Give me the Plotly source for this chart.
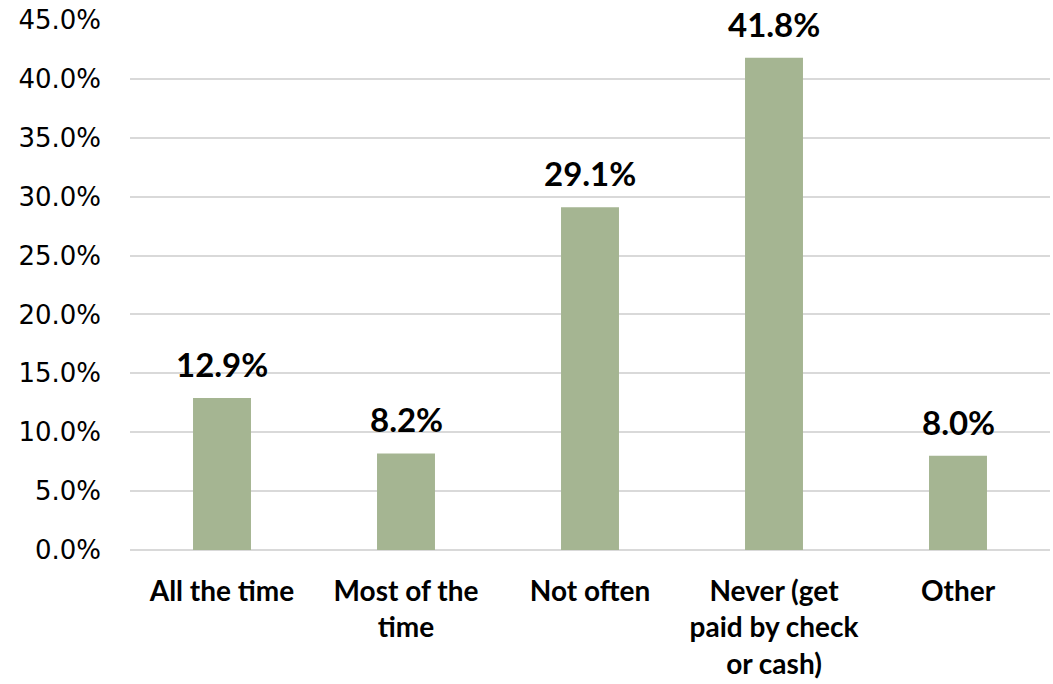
import plotly.graph_objects as go

categories = ["All the time", "Most of the<br>time", "Not often",
              "Never (get<br>paid by check<br>or cash)", "Other"]
values = [12.9, 8.2, 29.1, 41.8, 8.0]
tick_vals = [0, 5, 10, 15, 20, 25, 30, 35, 40, 45]
tick_text = [f"{v:.1f}%" for v in tick_vals]

bar_color = "#A5B592"
label_font = "Lato, 'Open Sans', sans-serif"

fig = go.Figure(
    go.Bar(
        x=categories,
        y=values,
        marker=dict(color=bar_color, line=dict(width=0)),
        hoverinfo="skip",
    )
)

# value labels above each bar
for cat, val in zip(categories, values):
    fig.add_annotation(
        x=cat, y=val, text=f"<b>{val:.1f}%</b>",
        showarrow=False, yanchor="bottom", yshift=12,
        font=dict(family=label_font, size=33, color="#000000"),
    )

fig.update_layout(
    width=1053, height=684,
    margin=dict(l=130, r=3, t=20, b=134),
    paper_bgcolor="white", plot_bgcolor="white",
    bargap=0.685,
    showlegend=False,
)

fig.update_xaxes(
    tickfont=dict(family=label_font, size=28, color="#000000"),
    tickprefix="<b>", ticksuffix="</b>",
    showline=False, showgrid=False,
    ticklabelstandoff=22,
)

fig.update_yaxes(
    range=[0, 45],
    tickvals=tick_vals, ticktext=tick_text,
    tickfont=dict(family="'DejaVu Sans', Verdana, sans-serif", size=26, color="#000000"),
    showgrid=True, gridcolor="#D9D9D9", gridwidth=2,
    zeroline=True, zerolinecolor="#D9D9D9", zerolinewidth=2,
    showline=False,
    ticklabelstandoff=28,
)

fig.write_html("out.html")
